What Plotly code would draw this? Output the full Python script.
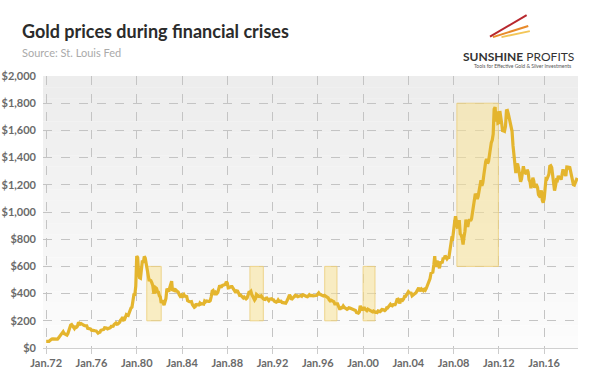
import pandas as pd
import plotly.graph_objects as go

# Monthly average gold price (USD/oz), Jan 1972 - Dec 2018
prices = [
    48.3, 48.3, 48.3, 49.0, 54.6, 62.1, 65.7, 67.0, 65.5, 64.9, 62.9, 63.9,
    65.1, 74.2, 84.4, 90.5, 102.0, 120.1, 120.2, 106.8, 103.0, 100.1, 94.8, 106.7,
    129.2, 150.2, 168.4, 172.2, 163.3, 154.1, 143.0, 154.6, 151.8, 158.8, 181.7, 183.9,
    175.8, 180.0, 177.8, 170.0, 167.2, 164.2, 165.2, 163.0, 144.1, 142.8, 142.8, 139.3,
    131.1, 131.3, 132.6, 128.2, 126.9, 125.7, 117.4, 109.3, 114.3, 116.0, 130.6, 133.9,
    132.3, 136.3, 148.3, 149.3, 146.6, 140.8, 143.4, 144.9, 149.5, 159.0, 162.5, 160.5,
    173.2, 178.2, 183.7, 175.3, 176.3, 183.7, 188.9, 206.1, 212.4, 227.4, 206.0, 207.8,
    227.3, 245.7, 242.1, 239.2, 257.6, 279.1, 294.7, 300.8, 355.1, 391.7, 392.5, 455.1,
    675.3, 665.3, 553.6, 517.4, 513.8, 600.7, 644.3, 626.5, 673.6, 661.1, 623.5, 594.9,
    557.4, 500.5, 499.8, 495.8, 480.3, 460.7, 409.3, 410.1, 443.2, 437.8, 413.4, 410.1,
    384.2, 374.1, 330.5, 350.5, 333.6, 314.9, 339.1, 364.3, 436.1, 422.3, 414.4, 444.3,
    481.5, 491.5, 419.6, 432.8, 437.9, 413.0, 422.7, 416.0, 411.9, 393.6, 382.2, 388.1,
    369.4, 387.0, 394.2, 381.2, 377.6, 378.2, 347.8, 347.3, 341.1, 340.2, 341.2, 320.2,
    302.8, 299.1, 304.0, 324.5, 316.4, 316.2, 316.9, 330.9, 323.3, 325.9, 325.3, 322.3,
    345.4, 339.2, 345.8, 340.6, 342.5, 342.9, 348.5, 376.7, 418.4, 423.3, 398.6, 391.4,
    408.3, 401.1, 408.9, 438.4, 460.3, 449.7, 450.4, 460.5, 460.2, 465.4, 467.7, 486.5,
    477.8, 442.2, 443.6, 451.6, 451.9, 451.6, 437.7, 431.4, 412.6, 406.6, 420.1, 418.7,
    404.0, 387.8, 390.2, 384.3, 371.3, 367.6, 375.0, 365.4, 361.8, 366.9, 393.9, 409.4,
    410.1, 416.8, 393.1, 374.3, 369.6, 352.3, 362.5, 394.7, 389.0, 380.7, 381.9, 378.2,
    383.6, 363.8, 363.3, 358.4, 356.8, 366.7, 367.7, 356.4, 348.7, 358.6, 359.6, 361.7,
    354.5, 353.9, 344.3, 338.6, 337.2, 340.8, 352.7, 342.9, 345.4, 344.4, 335.0, 334.8,
    329.0, 329.3, 330.1, 342.2, 367.2, 371.9, 392.0, 379.8, 355.3, 364.2, 373.9, 383.3,
    387.0, 382.0, 384.0, 377.3, 381.4, 385.6, 385.5, 380.4, 391.6, 389.8, 384.4, 379.3,
    378.6, 376.5, 382.1, 391.0, 385.3, 387.6, 386.2, 383.7, 383.1, 383.0, 385.9, 387.4,
    399.4, 404.8, 396.2, 392.9, 391.9, 385.3, 383.5, 387.5, 383.1, 381.1, 377.9, 369.2,
    354.1, 346.6, 351.8, 344.5, 343.8, 340.8, 324.1, 324.0, 322.8, 324.9, 306.0, 289.0,
    289.1, 297.5, 295.9, 308.4, 299.1, 292.3, 292.9, 284.1, 289.0, 295.9, 294.1, 291.6,
    287.1, 287.3, 285.9, 282.6, 276.4, 261.3, 256.1, 256.7, 264.7, 310.7, 293.2, 283.1,
    284.6, 300.9, 286.3, 280.0, 275.3, 285.7, 281.6, 274.5, 273.7, 270.0, 266.0, 271.5,
    265.5, 261.9, 263.0, 260.5, 272.4, 270.2, 267.5, 272.4, 283.4, 283.1, 276.2, 275.9,
    281.7, 295.5, 294.0, 302.7, 314.5, 321.2, 313.3, 310.3, 319.2, 316.6, 319.1, 332.6,
    356.9, 359.0, 340.6, 328.2, 355.7, 356.4, 351.0, 359.8, 378.9, 378.9, 389.9, 407.6,
    414.0, 405.3, 406.7, 403.0, 383.8, 392.4, 398.1, 400.5, 405.3, 420.5, 439.4, 442.1,
    424.0, 423.4, 434.2, 428.9, 421.9, 430.7, 424.5, 437.9, 456.0, 469.9, 476.7, 510.1,
    549.9, 555.0, 557.1, 610.6, 675.4, 596.2, 633.7, 632.6, 598.2, 585.8, 627.8, 629.8,
    631.2, 664.8, 654.9, 679.4, 666.9, 655.5, 665.3, 665.4, 712.7, 754.6, 806.3, 803.2,
    889.6, 922.3, 968.4, 909.7, 888.7, 889.5, 939.8, 839.0, 829.9, 806.6, 760.9, 816.1,
    858.7, 943.2, 924.3, 890.2, 928.6, 945.7, 934.2, 949.4, 996.6, 1043.2, 1127.0, 1134.7,
    1118.0, 1095.4, 1113.3, 1148.7, 1205.4, 1232.9, 1193.0, 1215.8, 1271.0, 1342.0, 1369.9, 1390.6,
    1356.4, 1372.7, 1424.0, 1473.8, 1510.4, 1528.7, 1572.8, 1755.8, 1771.9, 1665.2, 1739.0, 1652.3,
    1656.1, 1742.6, 1673.8, 1649.7, 1591.2, 1598.8, 1594.3, 1630.3, 1744.8, 1746.6, 1721.6, 1684.8,
    1671.9, 1627.6, 1593.1, 1487.9, 1414.0, 1343.4, 1285.5, 1351.7, 1348.6, 1316.6, 1275.8, 1221.5,
    1244.3, 1300.0, 1336.1, 1299.0, 1287.5, 1279.1, 1310.6, 1295.1, 1236.6, 1222.5, 1175.3, 1200.6,
    1251.8, 1227.1, 1178.6, 1198.9, 1198.6, 1181.5, 1128.3, 1117.9, 1124.6, 1159.3, 1086.4, 1068.3,
    1097.9, 1199.5, 1245.1, 1242.3, 1260.9, 1276.4, 1336.7, 1340.2, 1326.6, 1266.6, 1238.4, 1157.4,
    1192.1, 1234.2, 1231.4, 1266.9, 1246.0, 1260.3, 1236.8, 1283.0, 1314.1, 1279.5, 1281.9, 1264.5,
    1331.3, 1330.7, 1324.7, 1334.8, 1303.5, 1281.6, 1237.7, 1201.7, 1198.4, 1215.4, 1220.7, 1250.4,
]
dates = pd.date_range("1972-01-01", periods=len(prices), freq="MS")

# Crisis periods (start, end, low, high)
crisis_start = ["1980-11-20", "1990-01-01", "1996-08-10", "2000-01-01", "2008-04-15"]
crisis_end = ["1982-03-01", "1991-03-10", "1997-09-10", "2001-01-20", "2011-12-15"]
crisis_low = [200, 200, 200, 200, 600]
crisis_high = [600, 600, 600, 600, 1800]

tick_years = [1972, 1976, 1980, 1984, 1988, 1992, 1996, 2000, 2004, 2008, 2012, 2016]
tick_dates = [f"{y}-01-01" for y in tick_years]
tick_text = [f"Jan.{str(y)[2:]}" for y in tick_years]
y_ticks = [0, 200, 400, 600, 800, 1000, 1200, 1400, 1600, 1800, 2000]
y_text = [f"${v:,}" for v in y_ticks]

fig = go.Figure()
fig.add_trace(go.Scatter(
    x=dates, y=prices, mode="lines",
    line=dict(color="#E4B52E", width=3.2),
    hoverinfo="skip", showlegend=False,
))

shapes = []
# soft gradient background in the plot area
n = 24
for i in range(n):
    t = i / (n - 1)
    c = int(237 + (252 - 237) * t)
    shapes.append(dict(
        type="rect", xref="x domain", yref="y domain",
        x0=0, x1=1, y0=1 - (i + 1) / n, y1=1 - i / n,
        fillcolor=f"rgb({c},{c},{c})", line=dict(width=0), layer="below",
    ))
for s, e, lo, hi in zip(crisis_start, crisis_end, crisis_low, crisis_high):
    shapes.append(dict(
        type="rect", xref="x", yref="y", x0=s, x1=e, y0=lo, y1=hi,
        fillcolor="rgba(248,226,150,0.55)",
        line=dict(color="rgba(235,205,120,0.8)", width=1), layer="between",
    ))
# logo streaks
for (x0, y0, x1, y1, col, w) in [
    (0.8355, 1.1445, 0.904, 1.224, "#B8282E", 2),
    (0.841, 1.143, 0.907, 1.184, "#E88A2A", 2),
    (0.857, 1.143, 0.910, 1.165, "#F3C658", 2),
]:
    shapes.append(dict(type="line", xref="paper", yref="paper",
                       x0=x0, y0=y0, x1=x1, y1=y1,
                       line=dict(color=col, width=w)))

annotations = [
    dict(text="<b>Gold prices during financial crises</b>", xref="paper", yref="paper",
         x=-0.043, y=1.165, xanchor="left", yanchor="middle", showarrow=False,
         font=dict(family="Lato, sans-serif", size=18, color="#2b2b2b")),
    dict(text="Source: St. Louis Fed", xref="paper", yref="paper",
         x=-0.043, y=1.085, xanchor="left", yanchor="middle", showarrow=False,
         font=dict(family="Lato, sans-serif", size=11, color="#aaaaaa")),
    dict(text="<b>SUNSHINE</b> PROFITS", xref="paper", yref="paper",
         x=0.996, y=1.07, xanchor="right", yanchor="middle", showarrow=False,
         font=dict(family="Lato, sans-serif", size=12, color="#333333")),
    dict(text="Tools for Effective Gold &amp; Silver Investments", xref="paper", yref="paper",
         x=0.99, y=1.035, xanchor="right", yanchor="middle", showarrow=False,
         font=dict(family="Lato, sans-serif", size=5, color="#555555")),
]

fig.update_layout(
    width=600, height=382,
    margin=dict(l=43, r=22, t=76, b=34, autoexpand=False),
    paper_bgcolor="white", plot_bgcolor="white",
    shapes=shapes, annotations=annotations,
    xaxis=dict(
        range=["1971-09-20", "2018-12-28"],
        tickvals=tick_dates, ticktext=tick_text,
        showgrid=True, gridcolor="#c4c4c4", griddash="dash", gridwidth=1,
        ticks="outside", ticklen=5, tickcolor="#cccccc",
        showline=True, linecolor="#d0d0d0",
        tickfont=dict(family="Lato, sans-serif", size=11, color="#6a6a6a", weight="bold"),
        zeroline=False, automargin=False,
    ),
    yaxis=dict(
        range=[0, 2000], tickvals=y_ticks, ticktext=y_text,
        showgrid=True, gridcolor="#c4c4c4", griddash="dash", gridwidth=1,
        ticks="", ticklabelstandoff=6,
        tickfont=dict(family="Lato, sans-serif", size=11, color="#6a6a6a", weight="bold"),
        zeroline=False, showline=False, automargin=False,
    ),
)

fig.write_html(
    "out.html",
    config={"displayModeBar": False},
    post_script="document.body.style.margin='0';document.body.style.padding='0';",
)
